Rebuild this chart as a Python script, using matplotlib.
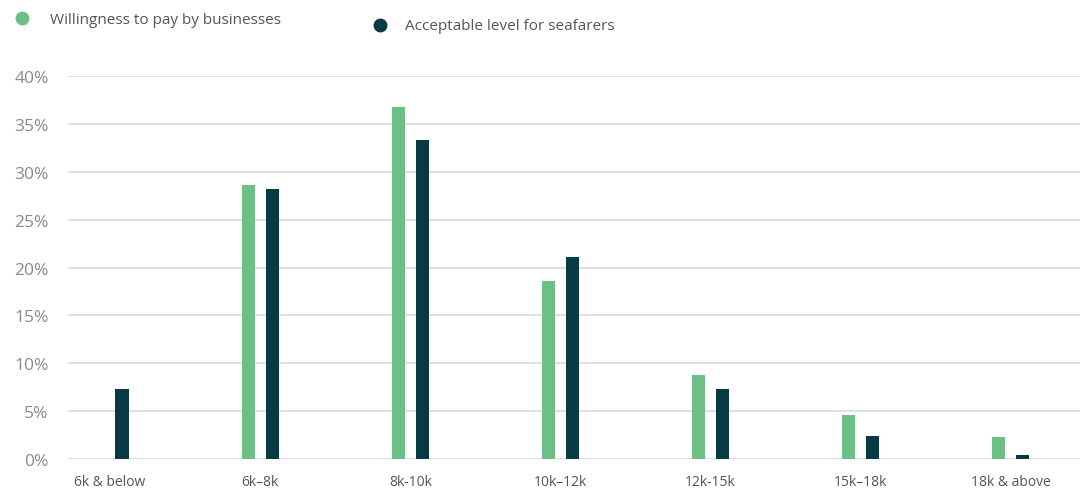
import matplotlib
matplotlib.use("Agg")
import matplotlib.pyplot as plt
import numpy as np

plt.rcParams['font.family'] = ['Open Sans', 'DejaVu Sans']

# Salary bands and shares (%)
categories = ['6k & below', '6k\u20138k', '8k-10k', '10k\u201312k', '12k-15k', '15k\u201318k', '18k & above']
businesses = [0.0, 28.6, 36.8, 18.6, 8.8, 4.6, 2.3]
seafarers = [7.3, 28.2, 33.3, 21.1, 7.3, 2.4, 0.4]
yticks = [0, 5, 10, 15, 20, 25, 30, 35, 40]
series_names = ['Willingness to pay by businesses', 'Acceptable level for seafarers']

green = '#6cc085'
dark = '#083a44'

fig = plt.figure(figsize=(10.89, 4.89), dpi=100)
ax = fig.add_axes([0.0624, 0.0593, 0.9293, 0.7832])

x = np.arange(len(categories))
w = 0.087
off = 0.08
ax.bar(x - off, businesses, width=w, color=green, zorder=3)
ax.bar(x + off, seafarers, width=w, color=dark, zorder=3)

ax.set_xlim(-0.28, 6.46)
ax.set_ylim(0, 40)
ax.set_yticks(yticks)
ax.set_yticklabels([f'{v}%' for v in yticks])
ax.yaxis.grid(True, color='#dcdcdc', linewidth=1.3, zorder=0)
ax.set_axisbelow(True)
for s in ax.spines.values():
    s.set_visible(False)
ax.tick_params(axis='y', length=0, pad=14, labelsize=12.5, labelcolor='#8a8a8a')
ax.set_xticks(x)
ax.set_xticklabels(categories)
ax.tick_params(axis='x', length=0, pad=11, labelsize=10, labelcolor='#555555')

# legend, placed by hand like the original
fig.add_artist(plt.Line2D([22 / 1089], [1 - 19 / 489], marker='o', markersize=9,
                          color=green, linestyle='none', transform=fig.transFigure))
fig.text(50 / 1089, 1 - 21 / 489, series_names[0], fontsize=11, color='#555555', va='center')
fig.add_artist(plt.Line2D([380 / 1089], [1 - 26 / 489], marker='o', markersize=9,
                          color=dark, linestyle='none', transform=fig.transFigure))
fig.text(405 / 1089, 1 - 26 / 489, series_names[1], fontsize=11, color='#555555', va='center')

fig.savefig('out.png', dpi=100)
